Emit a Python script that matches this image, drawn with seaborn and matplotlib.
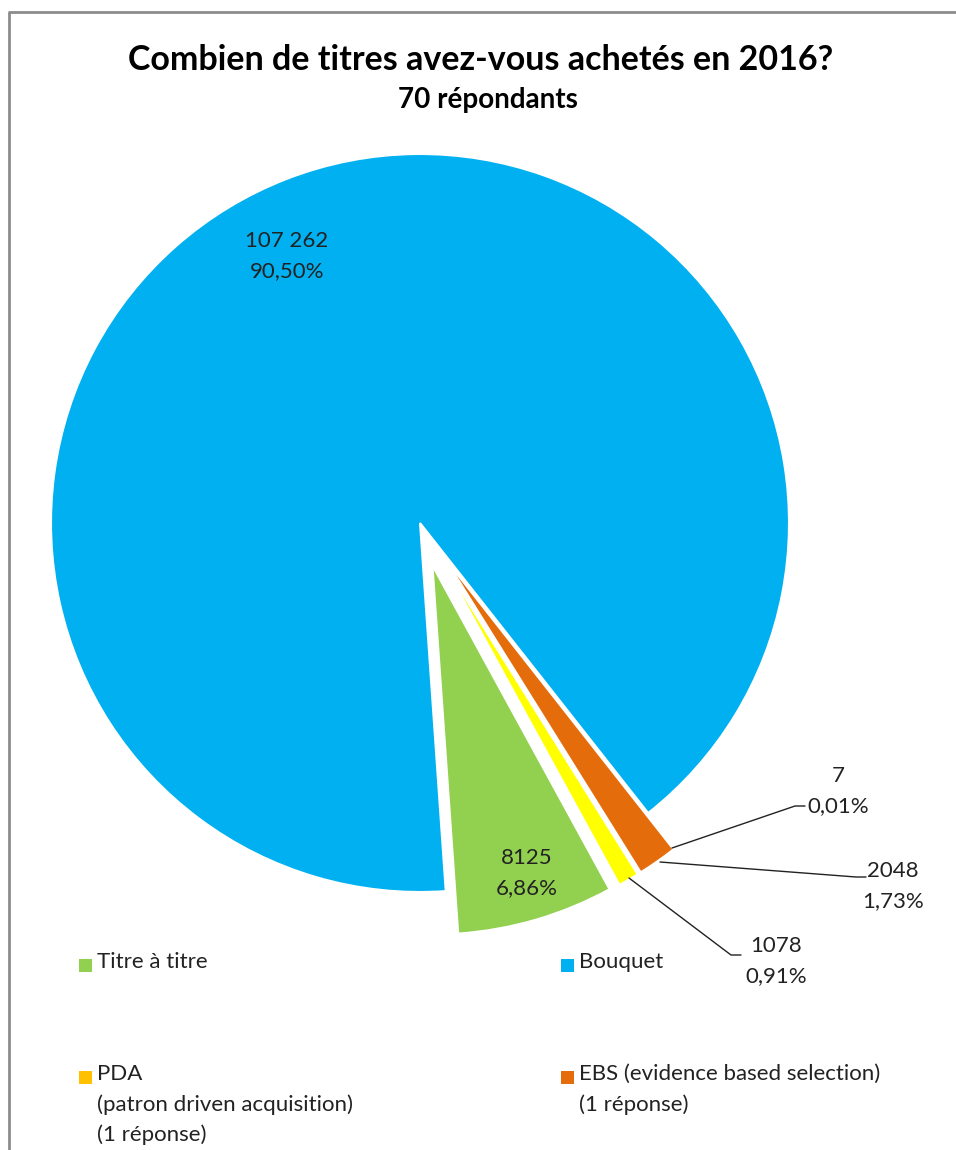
import matplotlib
matplotlib.use("Agg")
import matplotlib.pyplot as plt
from matplotlib.lines import Line2D
from matplotlib.patches import Rectangle
import seaborn as sns

# Purchase channels for titles bought in 2016 (70 respondents)
categories = ["Titre à titre", "PDA", "EBS", "Autre", "Bouquet"]
values = [8125, 1078, 2048, 7, 107262]
slice_colors = ["#92D050", "#FFFF00", "#E46C0A", "#7F7F7F", "#00B0F0"]
explode = [0.12, 0.12, 0.12, 0.12, 0.0]

legend_labels = ["Titre à titre", "Bouquet",
                 "PDA\n(patron driven acquisition)\n(1 réponse)",
                 "EBS (evidence based selection)\n(1 réponse)"]
legend_colors = ["#92D050", "#00B0F0", "#FFC000", "#E46C0A"]

title = "Combien de titres avez-vous achetés en 2016?"
subtitle = "70 répondants"

sns.set_theme(style="white")
plt.rcParams["font.family"] = ["Lato", "DejaVu Sans"]

W, H = 956, 1150
CX, CY, R = 420, 523, 369  # pie centre and radius in pixels

fig = plt.figure(figsize=(W / 100, H / 100), dpi=100)
ax = fig.add_axes([0, 0, 1, 1])


def px(x, y):
    """Pixel position (from top-left) to data coordinates."""
    return (x - CX) / R, (CY - y) / R


wedges, _ = ax.pie(values, colors=slice_colors, explode=explode,
                   startangle=-86, counterclock=True, radius=1.0,
                   wedgeprops=dict(edgecolor="white", linewidth=1.5))
ax.set_aspect("auto")
ax.set_xlim(-CX / R, (W - CX) / R)
ax.set_ylim(-(H - CY) / R, CY / R)
ax.axis("off")

total = sum(values)


def fmt_val(v):
    return f"{v:,}".replace(",", " ")


def fmt_pct(v):
    return f"{100 * v / total:.2f}%".replace(".", ",")


FS = 16
TXT = "#222222"
label_kw = dict(fontsize=FS, color=TXT, linespacing=1.6)

# Labels inside the two large slices
ax.text(*px(287, 256), f"{fmt_val(values[4])}\n{fmt_pct(values[4])}",
        ha="center", va="center", **label_kw)
ax.text(*px(527, 873), f"{values[0]}\n{fmt_pct(values[0])}",
        ha="center", va="center", **label_kw)

# Callout labels with leader lines for the thin slices
callouts = [
    # index, anchor on slice, elbow, label position
    (3, (672, 848), (795, 806), (838, 791)),
    (2, (660, 862), (856, 877), (893, 886)),
    (1, (629, 878), (731, 955), (776, 961)),
]
for idx, p0, p1, ptxt in callouts:
    xs, ys = zip(px(*p0), px(*p1), px(p1[0] + 10, p1[1]))
    ax.plot(xs, ys, color=TXT, lw=1.0)
    ax.text(*px(*ptxt), f"{values[idx]}\n{fmt_pct(values[idx])}",
            ha="center", va="center", **label_kw)

# Legend laid out in two columns
legend_pos = [(79, 965), (561, 965), (79, 1077), (561, 1077)]
for (lx, ly), lab, col in zip(legend_pos, legend_labels, legend_colors):
    x0, y0 = px(lx, ly + 7)
    ax.add_patch(Rectangle((x0, y0), 13 / R, 13 / R, color=col, lw=0))
    ax.text(*px(lx + 18, ly - 13), lab, ha="left", va="top",
            fontsize=FS, color=TXT, linespacing=1.6)

# Titles
fig.text(481 / W, 1 - 60 / H, title, ha="center", va="center",
         fontsize=24.5, fontweight="bold", color="black")
fig.text(488 / W, 1 - 100 / H, subtitle, ha="center", va="center",
         fontsize=20, fontweight="bold", color="black")

# Chart frame (left and top edges)
frame_kw = dict(transform=fig.transFigure, color="#8C8C8C", lw=2,
                solid_capstyle="butt")
fig.add_artist(Line2D([8.5 / W, 8.5 / W], [0, 1 - 11.5 / H], **frame_kw))
fig.add_artist(Line2D([7.5 / W, 1], [1 - 11.5 / H, 1 - 11.5 / H], **frame_kw))

fig.savefig("out.png", dpi=100, facecolor="white")
